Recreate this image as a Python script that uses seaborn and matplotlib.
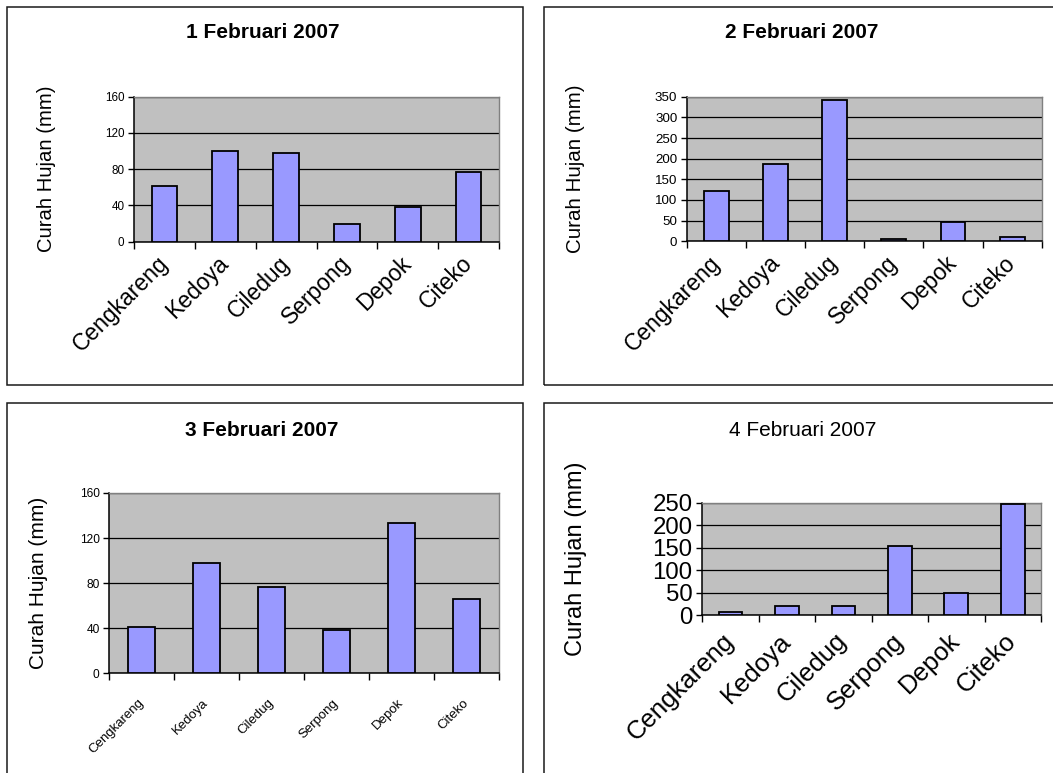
import numpy as np
import matplotlib
matplotlib.use("Agg")
import matplotlib.pyplot as plt
from matplotlib.patches import Rectangle
import seaborn as sns

# Daily rainfall (mm) at six stations, 1-4 February 2007
stations = ["Cengkareng", "Kedoya", "Ciledug", "Serpong", "Depok", "Citeko"]
hujan_1feb = [62, 100, 98, 19, 38, 77]
hujan_2feb = [122, 188, 343, 5, 47, 10]
hujan_3feb = [41, 98, 77, 38, 133, 66]
hujan_4feb = [7, 21, 21, 154, 50, 246]

titles = ["1 Februari 2007", "2 Februari 2007", "3 Februari 2007", "4 Februari 2007"]
ylabel = "Curah Hujan (mm)"

sns.set_theme(style="white")
plt.rcParams["font.family"] = ["Liberation Sans", "DejaVu Sans"]

W, H = 1053, 773
fig = plt.figure(figsize=(W / 100, H / 100), dpi=100)
fig.patch.set_facecolor("white")


def px_rect(x0, y0, x1, y1):
    return [x0 / W, 1 - y1 / H, (x1 - x0) / W, (y1 - y0) / H]


panels = [
    dict(vals=hujan_1feb, ax=(134, 96.7, 499, 241.7), ymax=160, step=40,
         ytfs=8.4, xtfs=16.5, xpad=13, ylfs=14.6, ylx=56, title=(262.5, 33), bold=True,
         frame=(7.3, 6.7, 523.3, 384.7)),
    dict(vals=hujan_2feb, ax=(687, 96.7, 1041.7, 241.3), ymax=350, step=50,
         ytfs=9.6, xtfs=16.5, xpad=13, ylfs=14.8, ylx=585, title=(802, 33), bold=True,
         frame=(544.3, 6.7, 1070, 384.7)),
    dict(vals=hujan_3feb, ax=(109.3, 493, 499, 673.3), ymax=160, step=40,
         ytfs=8.6, xtfs=9.5, xpad=20, ylfs=15, ylx=48, title=(262, 430), bold=True,
         frame=(7.3, 403.3, 523.3, 790)),
    dict(vals=hujan_4feb, ax=(702.3, 502.7, 1041, 615), ymax=250, step=50,
         ytfs=17.3, xtfs=18.5, xpad=16, ylfs=17, ylx=587, title=(803, 430), bold=False,
         frame=(544.3, 403.3, 1070, 790)),
]

for p, title in zip(panels, titles):
    # chart frame around each panel
    fx0, fy0, fx1, fy1 = p["frame"]
    fig.patches.append(Rectangle((fx0 / W, 1 - fy1 / H), (fx1 - fx0) / W, (fy1 - fy0) / H,
                                 transform=fig.transFigure, fill=False,
                                 edgecolor="#1a1a1a", linewidth=1.1, clip_on=False))

    ax = fig.add_axes(px_rect(*p["ax"]))
    ax.set_facecolor("#C0C0C0")
    sns.barplot(x=stations, y=p["vals"], ax=ax, color="#9999FF", saturation=1,
                edgecolor="black", linewidth=1.3, width=0.42, zorder=3)
    ax.set_xlim(-0.5, len(stations) - 0.5)
    ax.set_ylim(0, p["ymax"])
    ax.set_yticks(np.arange(0, p["ymax"] + 1, p["step"]))
    ax.yaxis.grid(True, color="black", linewidth=0.9, zorder=1)
    ax.set_axisbelow(True)

    # category labels centred, tick marks on category boundaries
    ax.set_xticks(range(len(stations)))
    ax.set_xticklabels(stations, rotation=45, ha="right", va="center",
                       rotation_mode="anchor", fontsize=p["xtfs"], color="black")
    ax.set_xticks(np.arange(-0.5, len(stations), 1), minor=True)
    ax.tick_params(axis="x", which="major", length=0, pad=p["xpad"])
    ax.tick_params(axis="x", which="minor", length=5, width=1, color="black",
                   direction="out", bottom=True)
    ax.tick_params(axis="y", length=4, width=1, color="black", direction="out",
                   left=True, labelsize=p["ytfs"], pad=3, labelcolor="black")

    for side in ("left", "bottom"):
        ax.spines[side].set_color("black")
        ax.spines[side].set_linewidth(1.1)
    for side in ("top", "right"):
        ax.spines[side].set_color("#808080")
        ax.spines[side].set_linewidth(1.0)

    ax.set_xlabel("")
    ax.set_ylabel(ylabel, fontsize=p["ylfs"], color="black")
    x0, y0, x1, y1 = p["ax"]
    ax.yaxis.set_label_coords((p["ylx"] - x0) / (x1 - x0), 0.5)

    tx, ty = p["title"]
    fig.text(tx / W, 1 - ty / H, title, ha="center", va="center", fontsize=15,
             fontweight="bold" if p["bold"] else "normal", color="black")

fig.savefig("out.png", dpi=100)
